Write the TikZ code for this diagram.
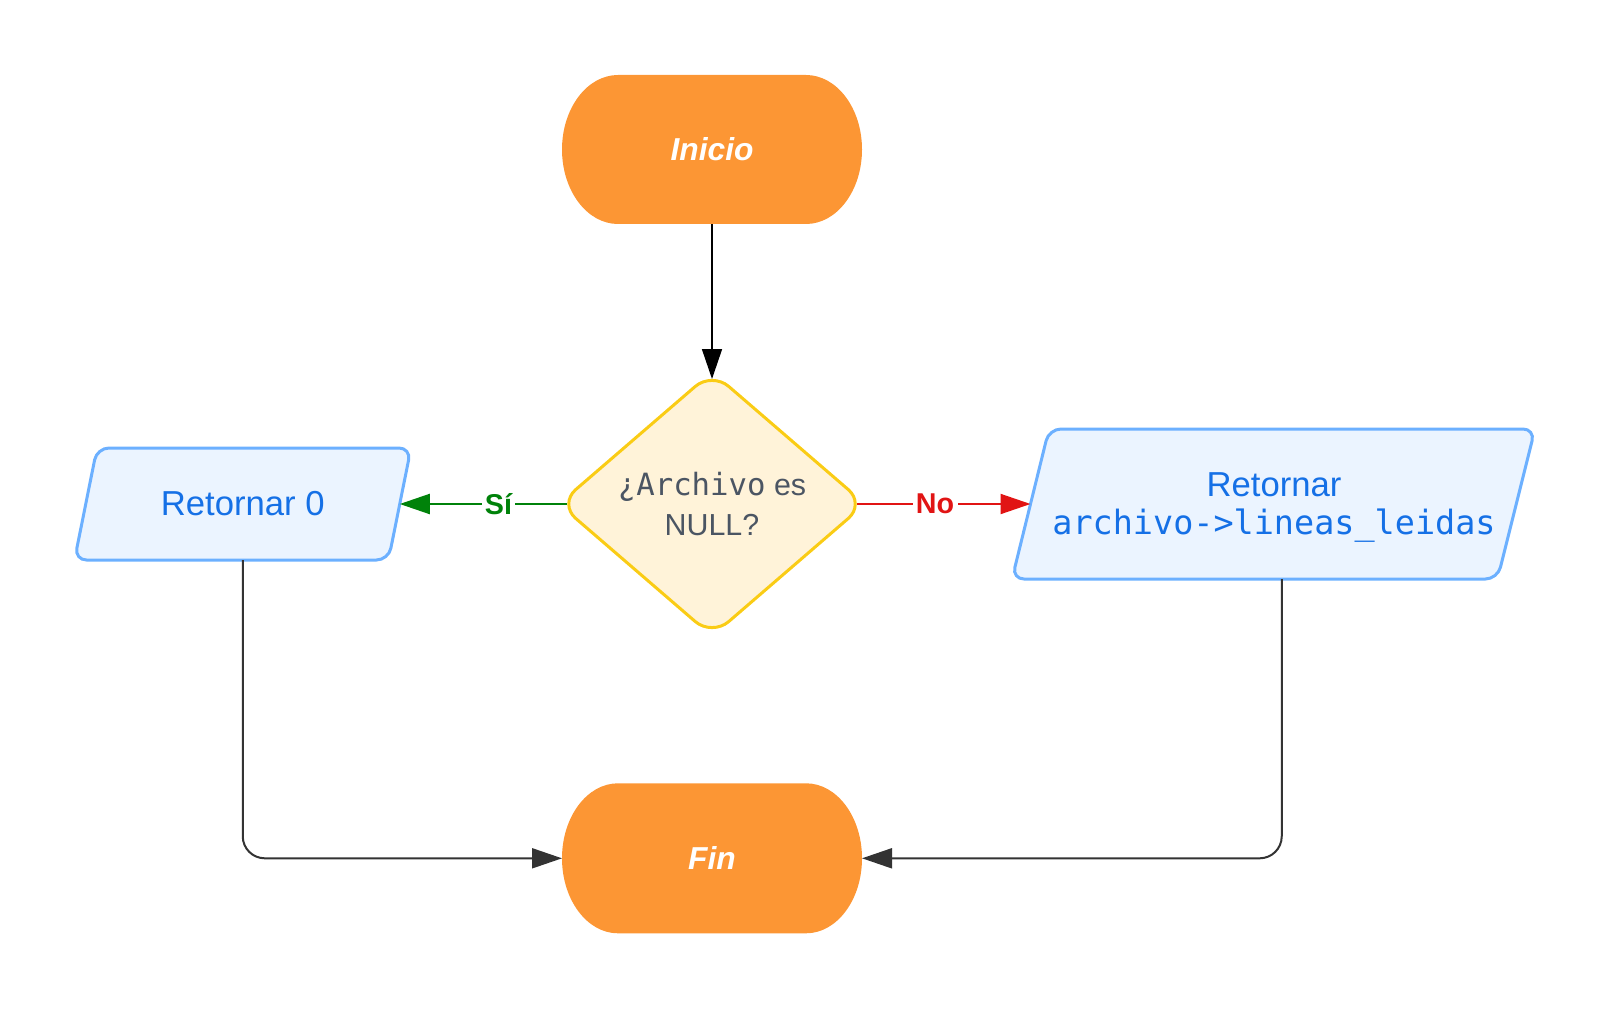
\documentclass[tikz,border=0pt]{standalone}
\usepackage{fontspec}
\setmainfont{Liberation Sans}
\newfontfamily\codefont{DejaVu Sans Mono}
\usetikzlibrary{arrows.meta}
\definecolor{termorange}{RGB}{252,150,52}
\definecolor{decfill}{RGB}{255,243,217}
\definecolor{decline}{RGB}{250,204,21}
\definecolor{dectext}{RGB}{75,85,99}
\definecolor{iofill}{RGB}{235,244,255}
\definecolor{ioline}{RGB}{108,176,255}
\definecolor{iotext}{RGB}{21,112,230}
\definecolor{yesgreen}{RGB}{0,130,10}
\definecolor{nored}{RGB}{225,20,20}
\definecolor{flowgray}{RGB}{51,51,51}
\begin{document}
\begin{tikzpicture}[x=0.75pt, y=-0.75pt,
  termshape/.style={fill=termorange},
  decshape/.style={fill=decfill, draw=decline, line width=2.25pt, rounded corners=16.5pt},
  ioshape/.style={fill=iofill, draw=ioline, line width=2.25pt, rounded corners=9pt},
  termnode/.style={inner sep=0pt, outer sep=0pt, minimum width=225pt, minimum height=112.5pt,
    text=white, font=\fontsize{23.8}{27}\selectfont\bfseries\itshape},
  decnode/.style={inner sep=0pt, outer sep=0pt, minimum width=217.5pt, minimum height=187.5pt,
    align=center, text=dectext, font=\fontsize{22.8}{29.8}\selectfont},
  ionode/.style={inner sep=0pt, outer sep=0pt, align=center, text=iotext,
    font=\fontsize{26}{28.4}\selectfont},
  lbl/.style={fill=white, inner xsep=2.5pt, inner ysep=1pt, font=\fontsize{21.5}{24}\selectfont\bfseries},
  tip/.style={-{Triangle[length=22.5pt,width=15pt]}},
  topflow/.style={draw=black, line width=1.2pt, tip},
  flow/.style={draw=flowgray, line width=1.5pt, rounded corners=16.5pt, tip},
  yesflow/.style={draw=yesgreen, line width=1.5pt, tip},
  noflow/.style={draw=nored, line width=1.5pt, tip}]
\useasboundingbox (0,0) rectangle (1613,1009);

% shapes
\fill[termshape] (618,75) -- (806,75) arc[start angle=-90,end angle=90,x radius=56,y radius=74.5]
  -- (618,224) arc[start angle=90,end angle=270,x radius=56,y radius=74.5] -- cycle;
\fill[termshape] (618,783.3) -- (806,783.3) arc[start angle=-90,end angle=90,x radius=56,y radius=75]
  -- (618,933.3) arc[start angle=90,end angle=270,x radius=56,y radius=75] -- cycle;
\path[decshape] (635.5,438) -- (712,372) -- (865,504) -- (712,636) -- (559,504) -- cycle;
\path[ioshape] (254,448) -- (411,448) -- (388.5,560) -- (74.5,560) -- (97,448) -- cycle;
\path[ioshape] (1292,429) -- (1535,429) -- (1497.5,579) -- (1012,579) -- (1049,429) -- cycle;

% nodes
\node[termnode] (ini) at (712,149.5) {Inicio};
\node[decnode] (dec) at (712,504) {{\codefont\fontsize{23}{29.8}\selectfont ¿Archivo} es\\NULL?};
\node[ionode, minimum width=235.5pt, minimum height=84pt] (r0) at (242.75,504) {Retornar 0};
\node[ionode, minimum width=365.25pt, minimum height=112.5pt] (rt) at (1274,504)
  {Retornar\\{\codefont\fontsize{25.1}{28.4}\selectfont archivo->lineas\smash{\_}leidas}};
\node[termnode] (fin) at (712,858.3) {Fin};

% connectors
\draw[topflow] (ini.south) -- (dec.north);
\draw[yesflow] (dec.west) -- node[lbl, text=yesgreen, pos=0.41] {Sí} (r0.east);
\draw[noflow] (dec.east) -- node[lbl, text=nored, pos=0.45] {No} (rt.west);
\draw[flow] (r0.south) |- (fin.west);
\draw[flow] ([xshift=5.8pt]rt.south) |- (fin.east);
\end{tikzpicture}
\end{document}
